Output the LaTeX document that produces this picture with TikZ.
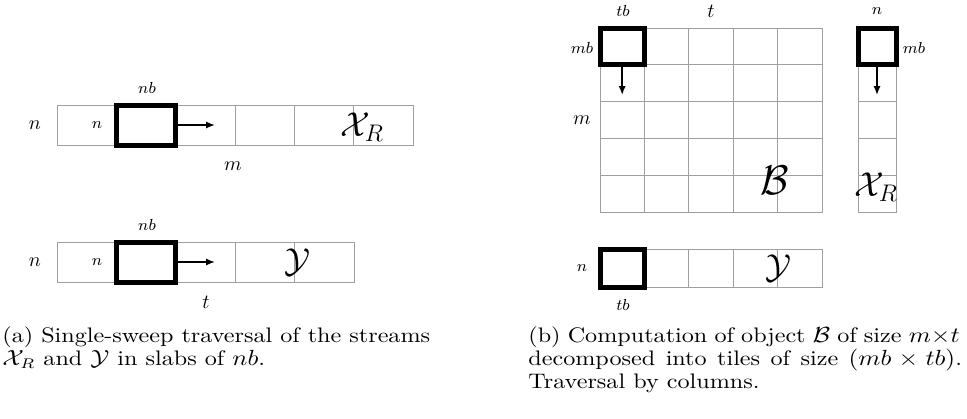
\documentclass[tikz,border=0pt]{standalone}
\usepackage{amsmath}
\usepackage{graphicx}
\usetikzlibrary{arrows.meta}
\newcommand{\capline}[2]{\scalebox{1.15}[1]{\makebox[#1][s]{#2}}}
\begin{document}
\begin{tikzpicture}[x=0.5pt,y=-0.5pt,
  gridline/.style={draw=gray!75,line width=0.5pt},
  tilebox/.style={draw=black,line width=2.5pt,inner sep=0pt,outer sep=0pt},
  arr/.style={-{Latex[length=4.5pt,width=3.6pt]},line width=0.8pt},
  lbl/.style={inner sep=0pt,font=\normalsize},
  slbl/.style={inner sep=0pt,font=\footnotesize},
  big/.style={inner sep=0pt,font=\LARGE},
  bigger/.style={inner sep=0pt,font=\huge},
  captext/.style={inner sep=0pt,anchor=base west,font=\fontsize{10.5}{11.5}\selectfont}]
\useasboundingbox (0,0) rectangle (967,418);
% ---------- (a) top strip
\draw[gridline] (57,105) rectangle (413,145);
\foreach \x in {116.3,175.6,235,294.3,353.6} \draw[gridline] (\x,105) -- (\x,145);
\node[tilebox,minimum width=29.65pt,minimum height=20pt] (A1) at (146,125) {};
\coordinate (A1e) at (215,125);
\draw[arr] (A1.east) -- (A1e);
\node[slbl] (A1nb) at (147,88) {$nb$};
\node[lbl] (A1n) at (35,125) {$n$};
\node[slbl] (A1in) at (97,125) {$n$};
\node[lbl] (A1m) at (233,166) {$m$};
\node[big] (A1X) at (362,127) {$\mathcal{X}_R$};
% ---------- (a) bottom strip
\draw[gridline] (57,242) rectangle (354,282);
\foreach \x in {116.3,175.6,235,294.3} \draw[gridline] (\x,242) -- (\x,282);
\node[tilebox,minimum width=29.65pt,minimum height=20pt] (A2) at (146,262) {};
\coordinate (A2e) at (215,262);
\draw[arr] (A2.east) -- (A2e);
\node[slbl] (A2nb) at (147,225) {$nb$};
\node[lbl] (A2n) at (35,262) {$n$};
\node[slbl] (A2in) at (97,262) {$n$};
\node[lbl] (A2t) at (206,302) {$t$};
\node[big] (A2Y) at (297,262) {$\mathcal{Y}$};
% ---------- (b) grid
\draw[gridline] (600,28) rectangle (822,212);
\foreach \x in {644.4,688.8,733.2,777.6} \draw[gridline] (\x,28) -- (\x,212);
\foreach \y in {64.8,101.6,138.4,175.2} \draw[gridline] (600,\y) -- (822,\y);
\node[tilebox,minimum width=22.2pt,minimum height=18.4pt] (B1) at (622.2,46.4) {};
\coordinate (B1e) at (622.2,95);
\draw[arr] (B1.south) -- (B1e);
\node[slbl] (Btb) at (623,11) {$tb$};
\node[lbl] (Bt) at (711,11) {$t$};
\node[slbl] (Bmb) at (582,48) {$mb$};
\node[lbl] (Bm) at (582,120) {$m$};
\node[bigger] (BB) at (775,180) {$\mathcal{B}$};
% ---------- (b) column
\draw[gridline] (858,28) rectangle (896,212);
\foreach \y in {64.8,101.6,138.4,175.2} \draw[gridline] (858,\y) -- (896,\y);
\node[tilebox,minimum width=19pt,minimum height=18.4pt] (C1) at (877,46.4) {};
\coordinate (C1e) at (877,95);
\draw[arr] (C1.south) -- (C1e);
\node[slbl] (Cn) at (877,11) {$n$};
\node[slbl] (Cmb) at (914,48) {$mb$};
\node[big] (CX) at (876,187) {$\mathcal{X}_R$};
% ---------- (b) bottom strip
\draw[gridline] (600,249) rectangle (822,287);
\foreach \x in {644.4,688.8,733.2,777.6} \draw[gridline] (\x,249) -- (\x,287);
\node[tilebox,minimum width=22.2pt,minimum height=19pt] (D1) at (622.2,268) {};
\node[slbl] (Dn) at (582,268) {$n$};
\node[slbl] (Dtb) at (623,305) {$tb$};
\node[big] (DY) at (778,268) {$\mathcal{Y}$};
% ---------- captions
\node[captext] (capa1) at (2,342) {\capline{186pt}{(a) Single-sweep traversal of the streams}};
\node[captext] (capa2) at (2,365) {\scalebox{1.15}[1]{$\mathcal{X}_R$ and $\mathcal{Y}$ in slabs of $nb$.}};
\node[captext] (capb1) at (528,342) {\capline{187.5pt}{(b) Computation of object $\mathcal{B}$ of size $m{\times}t$}};
\node[captext] (capb2) at (528,365) {\capline{188.5pt}{decomposed into tiles of size $(mb\times tb)$.}};
\node[captext] (capb3) at (528,388) {\scalebox{1.15}[1]{Traversal by columns.}};
\end{tikzpicture}
\end{document}
